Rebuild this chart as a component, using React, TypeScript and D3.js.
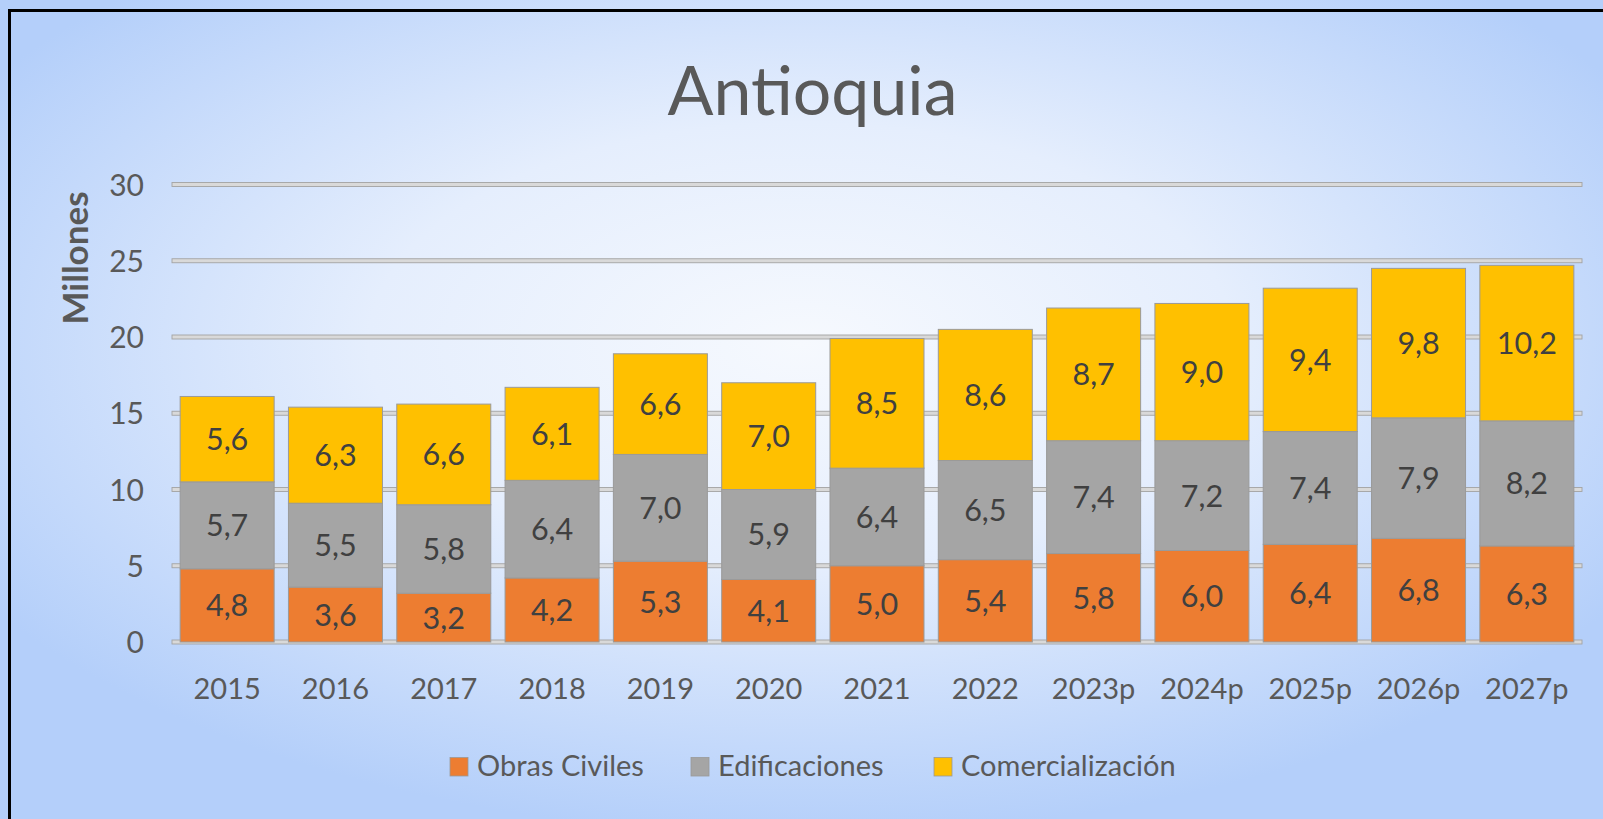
import React from "react";
import * as d3 from "d3";

const categories = ["2015", "2016", "2017", "2018", "2019", "2020", "2021", "2022", "2023p", "2024p", "2025p", "2026p", "2027p"];
const obrasCiviles = [4.8, 3.6, 3.2, 4.2, 5.3, 4.1, 5.0, 5.4, 5.8, 6.0, 6.4, 6.8, 6.3];
const edificaciones = [5.7, 5.5, 5.8, 6.4, 7.0, 5.9, 6.4, 6.5, 7.4, 7.2, 7.4, 7.9, 8.2];
const comercializacion = [5.6, 6.3, 6.6, 6.1, 6.6, 7.0, 8.5, 8.6, 8.7, 9.0, 9.4, 9.8, 10.2];
const seriesKeys = ["obras", "edif", "comer"];
const seriesNames = ["Obras Civiles", "Edificaciones", "Comercialización"];
const seriesColors = ["#ED7D31", "#A5A5A5", "#FFC000"];
const yTicks = [0, 5, 10, 15, 20, 25, 30];
const title = "Antioquia";
const yTitle = "Millones";

const W = 1603;
const H = 819;
const FONT = "Lato, 'Open Sans', sans-serif";

const locale = d3.formatLocale({ decimal: ",", thousands: ".", grouping: [3], currency: ["$", ""] });
const fmt = locale.format(".1f");

export default function App() {
  const rows = categories.map((c, i) => ({
    cat: c,
    obras: obrasCiviles[i],
    edif: edificaciones[i],
    comer: comercializacion[i],
  }));
  const stacked = d3.stack<any>().keys(seriesKeys)(rows);

  const x = d3.scaleBand().domain(categories).range([173, 1581]).paddingInner(0.132).paddingOuter(0.066);
  const y = d3.scaleLinear().domain([0, 30]).range([642, 184.5]);
  const gridX0 = 172;
  const gridX1 = 1582;

  const legendX = [450, 691, 934];

  return (
    <svg
      width={W}
      height={H}
      style={{ position: "absolute", left: 0, top: 0, display: "block" }}
      fontFamily={FONT}
    >
      <defs>
        <radialGradient id="bg" cx="0.5" cy="0.42" r="0.6" gradientUnits="objectBoundingBox">
          <stop offset="0" stopColor="#f6f9fe" />
          <stop offset="0.45" stopColor="#e5eefd" />
          <stop offset="1" stopColor="#b4cffa" />
        </radialGradient>
      </defs>
      <rect x={0} y={0} width={W} height={H} fill="url(#bg)" />
      <rect x={9.5} y={10.5} width={W + 20} height={H + 20} fill="none" stroke="#000" strokeWidth={3} />

      {/* title */}
      <text x={812.5} y={115} textAnchor="middle" fontSize={68} fill="#595959">
        {title}
      </text>

      {/* gridlines */}
      {yTicks.map((t) => (
        <rect
          key={"g" + t}
          x={gridX0}
          y={y(t) - 2}
          width={gridX1 - gridX0}
          height={4}
          fill="#d9d9d9"
          stroke="#a3a3a3"
          strokeWidth={0.9}
        />
      ))}

      {/* y tick labels */}
      {yTicks.map((t) => (
        <text key={"t" + t} x={144} y={y(t) + 11} textAnchor="end" fontSize={30} fill="#595959">
          {t}
        </text>
      ))}

      {/* y axis title */}
      <text
        transform={`translate(88, ${258}) rotate(-90)`}
        textAnchor="middle"
        fontSize={35}
        fontWeight="bold"
        fill="#595959"
      >
        {yTitle}
      </text>

      {/* bars */}
      {stacked.map((s, si) => (
        <g key={s.key}>
          {s.map((d: any, i: number) => (
            <rect
              key={i}
              x={x(categories[i])!}
              y={y(d[1])}
              width={x.bandwidth()}
              height={y(d[0]) - y(d[1])}
              fill={seriesColors[si]}
              stroke="#9a9a9a"
              strokeWidth={1}
            />
          ))}
        </g>
      ))}

      {/* data labels */}
      {stacked.map((s, si) => (
        <g key={"l" + s.key}>
          {s.map((d: any, i: number) => (
            <text
              key={i}
              x={x(categories[i])! + x.bandwidth() / 2}
              y={(y(d[0]) + y(d[1])) / 2 + 11}
              textAnchor="middle"
              fontSize={30.5}
              fill="#404040"
            >
              {fmt(d[1] - d[0])}
            </text>
          ))}
        </g>
      ))}

      {/* category labels */}
      {categories.map((c) => (
        <text key={"c" + c} x={x(c)! + x.bandwidth() / 2} y={699} textAnchor="middle" fontSize={29} fill="#595959">
          {c}
        </text>
      ))}

      {/* legend */}
      {seriesNames.map((n, i) => (
        <g key={"lg" + i} transform={`translate(${legendX[i]}, 0)`}>
          <rect x={0} y={757.5} width={18} height={18.5} fill={seriesColors[i]} stroke="#9a9a9a" strokeWidth={0.8} />
          <text x={27} y={776} fontSize={29} fill="#595959">
            {n}
          </text>
        </g>
      ))}
    </svg>
  );
}
